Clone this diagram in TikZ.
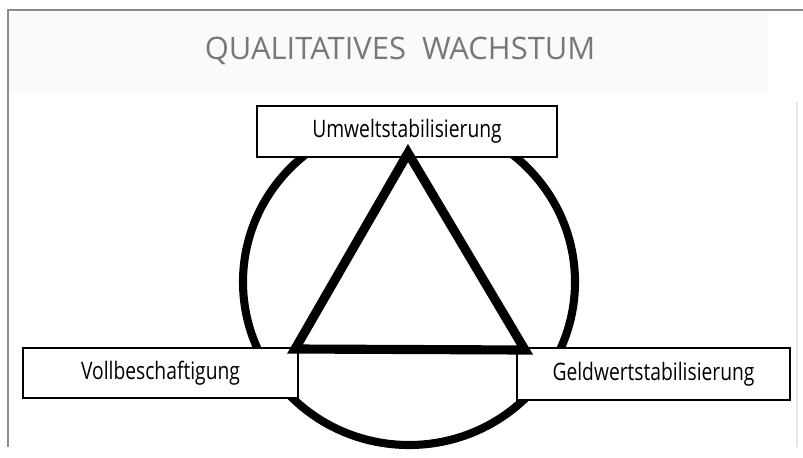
\documentclass[tikz,border=0pt]{standalone}
\usepackage{fontspec}
\usepackage{tikz}
\usetikzlibrary{positioning, calc}
\usepackage{xcolor}
\newfontfamily\handfont[FakeStretch=0.8]{Open Sans}
\newfontfamily\titlefont{Open Sans}
\definecolor{framegray}{RGB}{140,140,140}
\definecolor{bandgray}{RGB}{250,250,250}
\definecolor{titlegray}{RGB}{120,120,120}

\begin{document}
\begin{tikzpicture}[
  goalbox/.style={draw, thick, fill=white, inner sep=0pt,
                  minimum height=1.02cm,
                  font=\handfont\fontsize{13.7}{16}\selectfont},
  ring/.style={line width=4.6pt},
  tri/.style={line width=5.2pt, line join=miter},
  frameline/.style={draw=framegray, line width=0.9pt}
]
\useasboundingbox (0,0) rectangle (16.06,9.14);

%--- Frame and title ---
\fill[bandgray] (0.16,7.28) rectangle (15.36,8.9);
\draw[frameline] (0.16,0.2) -- (0.16,8.94) -- (16.06,8.94);
\draw[draw=gray!20, line width=0.6pt] (15.94,0.2) -- (15.94,7.1);
\node[font=\titlefont\fontsize{17.6}{20}\selectfont, text=titlegray]
  (title) at (8.0,8.12) {QUALITATIVES\ \ WACHSTUM};

%--- Circle ---
\coordinate (mid) at (8.18,3.5);
\draw[ring] (mid) ellipse [x radius=3.32cm, y radius=3.26cm];

%--- Goals ---
\node[goalbox, minimum width=6.0cm]  (umwelt) at (8.14,6.51) {Umweltstabilisierung};
\node[goalbox, minimum width=5.5cm, minimum height=1.0cm]  (voll) at (3.21,1.68) {Vollbeschaftigung};
\node[goalbox, minimum width=5.46cm, minimum height=1.04cm] (geld) at (13.07,1.66) {Geldwertstabilisierung};

%--- Triangle ---
\coordinate (top)   at (8.16,6.08);
\coordinate (left)  at (5.90,2.16);
\coordinate (right) at (10.50,2.14);
\draw[tri] (top) -- (left) -- (right) -- cycle;

\end{tikzpicture}
\end{document}
